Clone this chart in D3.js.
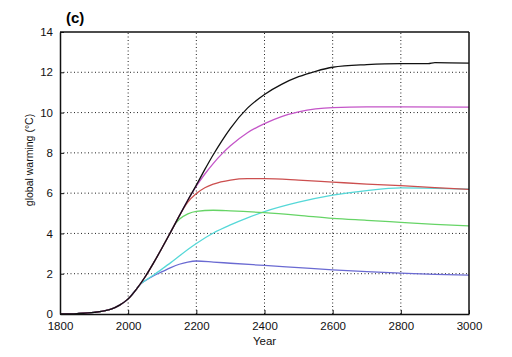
<!DOCTYPE html>
<html><head><meta charset="utf-8">
<script src="https://cdn.jsdelivr.net/npm/d3@7"></script>
<style>body{margin:0;background:#fff}svg{display:block}text{font-family:"Liberation Sans",Arial,sans-serif}</style>
</head><body><svg id="c" width="512" height="357"></svg>
<script>
const xTicks = [1800, 2000, 2200, 2400, 2600, 2800, 3000];
const yTicks = [0, 2, 4, 6, 8, 10, 12, 14];
const history = [[1800,0],[1850,0.02],[1900,0.08],[1950,0.24],[1975,0.44],[2000,0.75],[2025,1.25]];
const early = [[2050,1.85],[2075,2.55],[2100,3.3],[2125,4.08]];
const blackS = early.concat([[2150,4.87],[2175,5.65],[2200,6.4],[2225,7.18],[2250,7.92],[2275,8.6],[2300,9.22],[2350,10.22],[2400,10.9],[2450,11.4],[2500,11.78],[2550,12.05],[2600,12.25],[2700,12.38],[2800,12.43],[2880,12.43],[2900,12.48],[3000,12.45]]);
const magentaS = early.concat([[2150,4.87],[2175,5.65],[2200,6.35],[2225,6.95],[2250,7.48],[2275,7.95],[2300,8.35],[2350,9.0],[2400,9.45],[2450,9.8],[2500,10.03],[2550,10.18],[2600,10.25],[2700,10.28],[2800,10.28],[3000,10.27]]);
const redS = early.concat([[2150,4.87],[2165,5.3],[2175,5.55],[2200,5.98],[2225,6.27],[2250,6.45],[2300,6.65],[2350,6.72],[2400,6.72],[2500,6.65],[2600,6.55],[2700,6.45],[2800,6.37],[2900,6.27],[3000,6.19]]);
const greenS = early.concat([[2137,4.45],[2150,4.7],[2175,4.97],[2200,5.1],[2250,5.15],[2300,5.12],[2400,5.03],[2500,4.9],[2600,4.75],[2700,4.65],[2800,4.55],[2900,4.45],[3000,4.37]]);
const cyanS = [[2037,1.5],[2050,1.66],[2075,1.94],[2100,2.24],[2125,2.55],[2150,2.88],[2175,3.2],[2200,3.5],[2250,4.02],[2300,4.42],[2350,4.77],[2400,5.08],[2500,5.55],[2600,5.9],[2700,6.13],[2800,6.26],[2900,6.24],[3000,6.2]];
const blueS = [[2037,1.5],[2050,1.65],[2075,1.9],[2100,2.1],[2125,2.3],[2150,2.47],[2175,2.58],[2200,2.63],[2250,2.58],[2300,2.52],[2400,2.41],[2500,2.3],[2600,2.19],[2700,2.1],[2800,2.03],[2900,1.97],[3000,1.93]];
const seriesColors = ["#6a6ad2", "#55d8d8", "#66d466", "#cc4f4f", "#c455c8", "#111111"];
const seriesData = [blueS, cyanS, greenS, redS, magentaS, blackS];

const svg = d3.select("#c");
const m = {l:60, r:43, t:32, b:43};
const W = 512, H = 357;
const x = d3.scaleLinear().domain([1800,3000]).range([m.l, W-m.r]);
const y = d3.scaleLinear().domain([0,14]).range([H-m.b, m.t]);

const g = svg.append("g");
g.selectAll(".vx").data(xTicks.slice(1,-1)).join("line")
 .attr("x1",d=>x(d)).attr("x2",d=>x(d)).attr("y1",y(0)).attr("y2",y(14))
 .attr("stroke","#222").attr("stroke-width",1).attr("stroke-dasharray","1,2.5");
g.selectAll(".hy").data(yTicks.slice(1,-1)).join("line")
 .attr("x1",x(1800)).attr("x2",x(3000)).attr("y1",d=>y(d)).attr("y2",d=>y(d))
 .attr("stroke","#222").attr("stroke-width",1).attr("stroke-dasharray","1,2.5");

const line = d3.line().x(d=>x(d[0])).y(d=>y(d[1])).curve(d3.curveMonotoneX);
seriesData.forEach((s,i)=>{
  svg.append("path").datum(history.concat(s)).attr("d",line)
    .attr("fill","none").attr("stroke",seriesColors[i]).attr("stroke-width",1.3);
});

const xa = svg.append("g").attr("transform",`translate(0,${y(0)})`)
 .call(d3.axisBottom(x).tickValues(xTicks).tickFormat(d3.format("d")).tickSizeInner(-4).tickSizeOuter(0).tickPadding(8));
const ya = svg.append("g").attr("transform",`translate(${x(1800)},0)`)
 .call(d3.axisLeft(y).tickValues(yTicks).tickSizeInner(-4).tickSizeOuter(0).tickPadding(7));
[xa,ya].forEach(a=>{
  a.selectAll("text").attr("font-size",11.5).attr("fill","#111").style("font-family","'Liberation Sans',Arial,sans-serif");
  a.select(".domain").attr("stroke","#111").attr("stroke-width",1.5);
  a.selectAll(".tick line").attr("stroke","#111");
});
svg.append("line").attr("x1",x(1800)).attr("x2",x(3000)).attr("y1",y(14)).attr("y2",y(14)).attr("stroke","#111").attr("stroke-width",1.5);
svg.append("line").attr("x1",x(3000)).attr("x2",x(3000)).attr("y1",y(14)).attr("y2",y(0)).attr("stroke","#111").attr("stroke-width",1.5);

svg.append("text").attr("x",x(2400)).attr("y",345).attr("text-anchor","middle").attr("font-size",11.5).attr("fill","#111").text("Year");
svg.append("text").attr("transform","translate(33,160) rotate(-90)").attr("text-anchor","middle").attr("font-size",10.5).attr("fill","#111").text("global warming (°C)");
svg.append("text").attr("x",66).attr("y",23).attr("font-size",15).attr("font-weight","bold").attr("fill","#000").text("(c)");
</script></body></html>
